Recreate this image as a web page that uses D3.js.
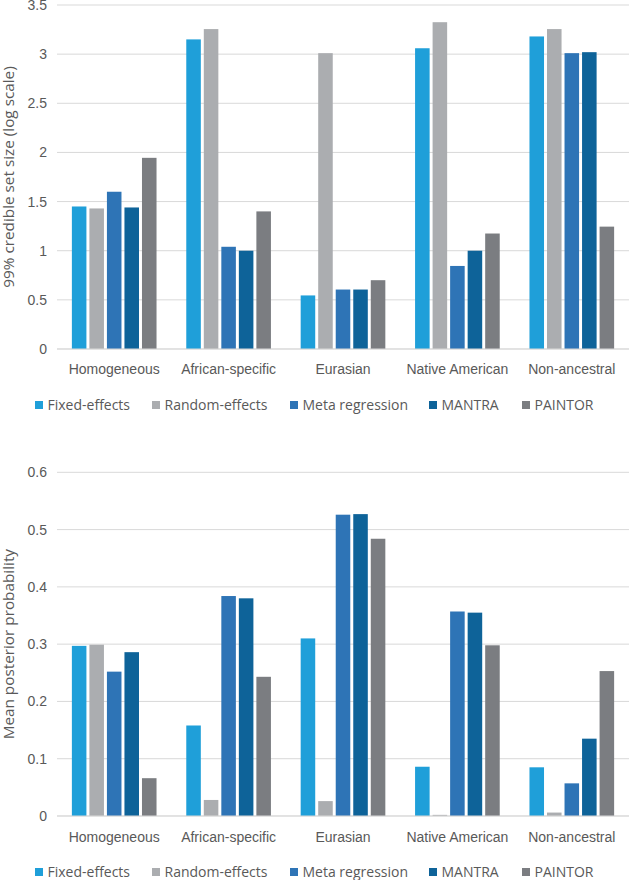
<!DOCTYPE html>
<html>
<head>
<meta charset="utf-8">
<script src="https://cdn.jsdelivr.net/npm/d3@7"></script>
<style>
  html, body { margin: 0; padding: 0; background: #fff; }
  svg { display: block; font-family: "Open Sans", "Noto Sans", sans-serif; }
</style>
</head>
<body>
<svg id="chart" width="630" height="880"></svg>
<script>
const categories = ["Homogeneous", "African-specific", "Eurasian", "Native American", "Non-ancestral"];
const seriesNames = ["Fixed-effects", "Random-effects", "Meta regression", "MANTRA", "PAINTOR"];
const seriesColors = ["#1f9fd9", "#abadb0", "#2e74b6", "#0e6399", "#7b7d81"];

// Top chart: 99% credible set size (log scale)
const setSizeFixed   = [1.45, 3.15, 0.545, 3.06, 3.18];
const setSizeRandom  = [1.43, 3.255, 3.01, 3.325, 3.255];
const setSizeMeta    = [1.60, 1.04, 0.605, 0.845, 3.01];
const setSizeMantra  = [1.44, 1.00, 0.605, 1.00, 3.02];
const setSizePaintor = [1.945, 1.40, 0.70, 1.175, 1.245];
const topTicks = [0, 0.5, 1, 1.5, 2, 2.5, 3, 3.5];
const topTickLabels = ["0", "0.5", "1", "1.5", "2", "2.5", "3", "3.5"];

// Bottom chart: mean posterior probability
const ppFixed   = [0.297, 0.158, 0.310, 0.086, 0.085];
const ppRandom  = [0.299, 0.028, 0.026, 0.002, 0.006];
const ppMeta    = [0.252, 0.384, 0.526, 0.357, 0.057];
const ppMantra  = [0.286, 0.380, 0.527, 0.355, 0.135];
const ppPaintor = [0.066, 0.243, 0.484, 0.298, 0.253];
const bottomTicks = [0, 0.1, 0.2, 0.3, 0.4, 0.5, 0.6];
const bottomTickLabels = ["0", "0.1", "0.2", "0.3", "0.4", "0.5", "0.6"];

const svg = d3.select("#chart");
const textColor = "#595959";
const gridColor = "#d9d9d9";
const fontSize = 14;
const titleFontSize = 15.3;

function drawPanel(opts) {
  const { top, bottom, left, right, yMax, ticks, tickLabels, series, title, labelY, legendY } = opts;
  const g = svg.append("g");
  const x0 = d3.scaleBand().domain(categories).range([left, right]).paddingInner(0.26).paddingOuter(0.13);
  const x1 = d3.scaleBand().domain(seriesNames).range([0, x0.bandwidth()]).paddingInner(0.17).paddingOuter(0);
  const y = d3.scaleLinear().domain([0, yMax]).range([bottom, top]);

  // gridlines
  g.append("g").selectAll("line").data(ticks).join("line")
    .attr("x1", left).attr("x2", right)
    .attr("y1", d => y(d)).attr("y2", d => y(d))
    .attr("stroke", gridColor).attr("stroke-width", 1);

  // y tick labels via axis
  const yAxis = d3.axisLeft(y).tickValues(ticks).tickSize(0).tickPadding(0)
    .tickFormat((d, i) => tickLabels[i]);
  const ya = g.append("g").attr("transform", `translate(${left - 10},0)`).call(yAxis);
  ya.select(".domain").remove();
  ya.selectAll("text").attr("fill", textColor).style("font-size", fontSize + "px").attr("font-family", null);

  // bars
  const rows = categories.map((c, ci) => ({ cat: c, vals: series.map((s, si) => ({ name: seriesNames[si], v: s[ci], color: seriesColors[si] })) }));
  const grp = g.append("g").selectAll("g").data(rows).join("g")
    .attr("transform", d => `translate(${x0(d.cat)},0)`);
  grp.selectAll("rect").data(d => d.vals).join("rect")
    .attr("x", d => x1(d.name))
    .attr("width", x1.bandwidth())
    .attr("y", d => y(d.v))
    .attr("height", d => y(0) - y(d.v))
    .attr("fill", d => d.color);

  // baseline redraw
  g.append("line").attr("x1", left).attr("x2", right).attr("y1", y(0)).attr("y2", y(0))
    .attr("stroke", gridColor).attr("stroke-width", 1);

  // category labels via axis
  const xAxis = d3.axisBottom(x0).tickSize(0).tickPadding(0);
  const xa = g.append("g").attr("transform", `translate(0,${labelY})`).call(xAxis);
  xa.select(".domain").remove();
  xa.selectAll("text").attr("fill", textColor).style("font-size", fontSize + "px").attr("font-family", null)
    .attr("dy", "0.35em").attr("y", 0);

  // y title
  g.append("text")
    .attr("transform", `translate(13.5,${(top + bottom) / 2}) rotate(-90)`)
    .attr("text-anchor", "middle")
    .attr("fill", textColor).style("font-size", titleFontSize + "px")
    .text(title);

  // legend
  const legendX = [35, 152, 290, 429, 522];
  const lg = g.append("g").selectAll("g").data(seriesNames).join("g")
    .attr("transform", (d, i) => `translate(${legendX[i]},${legendY})`);
  lg.append("rect").attr("x", 0).attr("y", -4).attr("width", 8).attr("height", 8)
    .attr("fill", (d, i) => seriesColors[i]);
  lg.append("text").attr("x", 12.5).attr("y", 0).attr("dy", "0.35em")
    .attr("fill", textColor).style("font-size", fontSize + "px").text(d => d);
}

drawPanel({
  top: 5, bottom: 349, left: 57, right: 629, yMax: 3.5,
  ticks: topTicks, tickLabels: topTickLabels,
  series: [setSizeFixed, setSizeRandom, setSizeMeta, setSizeMantra, setSizePaintor],
  title: "99% credible set size (log scale)", labelY: 369, legendY: 405
});

drawPanel({
  top: 472.3, bottom: 816, left: 57, right: 629, yMax: 0.6,
  ticks: bottomTicks, tickLabels: bottomTickLabels,
  series: [ppFixed, ppRandom, ppMeta, ppMantra, ppPaintor],
  title: "Mean posterior probability", labelY: 837, legendY: 872
});
</script>
</body>
</html>
